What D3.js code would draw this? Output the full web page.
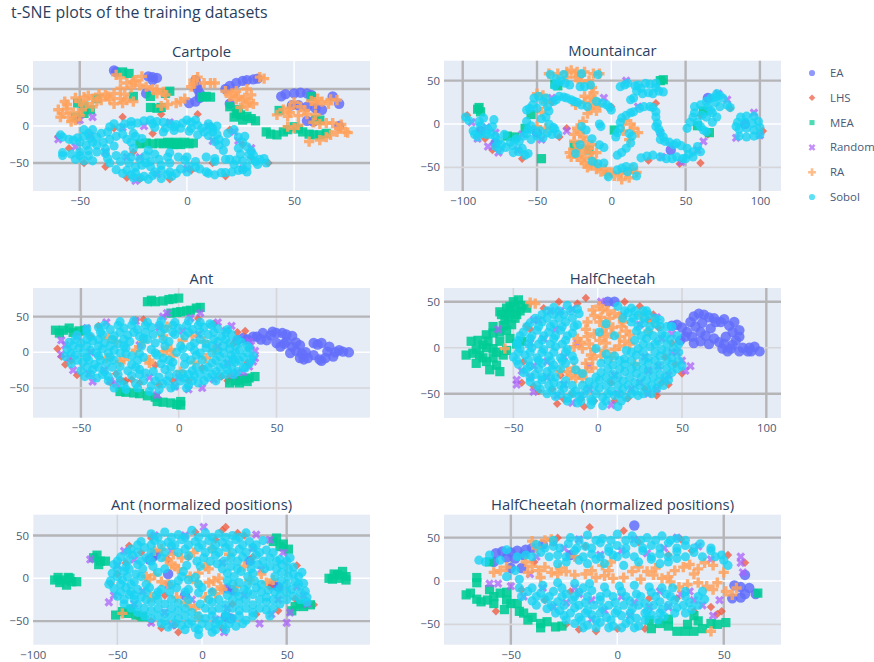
<!DOCTYPE html>
<html>
<head>
<meta charset="utf-8">
<script src="https://cdn.jsdelivr.net/npm/d3@7"></script>
<style>
  body { margin: 0; background: #fff; }
  text { font-family: "Open Sans", sans-serif; fill: #2a3f5f; }
  .axis path { display: none; }
  .axis text { font-size: 11.4px; fill: #4a5a76; }
</style>
</head>
<body>
<svg id="chart" width="874" height="662"></svg>
<script>
// values, t-SNE x/y per panel and per method
const methods = ["EA", "LHS", "MEA", "Random", "RA", "Sobol"];
const colors = ["#636efa", "#EF553B", "#00cc96", "#ab63fa", "#FFA15A", "#19d3f3"];

const cartpoleEA = [[-34,75],[-33,73],[-18,67],[-16,66],[-14,65],[-16,62],[-19,44],[4,62],[4.5,56],[5,50],[6,44],[6,38],[4,33],[1,31],[18,50],[20,54],[23,58],[26,61],[28,62],[31,63],[33,64],[20,30],[44,40],[46,43],[50,44],[53,45],[56,44],[58,42],[68,40],[71,30],[49,28],[52,28],[56,26],[60,24],[63,22],[56,7],[59,6],[71,0]];
const cartpoleLHS = [[-60,-14],[-48,-50],[-30,12],[-12,16],[5,16],[20,-5],[26,-25],[38,-50],[18,-68],[-22,-72],[-8,-72],[-38,-55],[-55,-30],[-34,-3],[-25,-35],[12,-50],[30,-42],[-16,-10],[2,-60],[-28,-70]];
const cartpoleMEA = [[-22,-24],[-19,-23],[-16,-24],[-13,-23],[-11,-24],[-9,-22],[-7,-25],[-5,-22],[-3,-25],[-1,-22],[1,-24],[3,-23],[-4,-24],[-8,-23],[-17,25],[-14,24],[-12,25],[7,39],[9,40],[11,39],[-8,47],[-10,44],[-17,40],[-30,73],[-27,71],[-48,17],[-45,22],[-51,31],[-42,37],[-25,40],[-48,27],[-52,12],[23,17],[25,15],[28,13],[30,10],[32,7],[26,8],[22,12],[24,22],[20,26],[37,-8],[39,-11],[42,-12],[45,-8],[47,-5],[50,-1],[52,-4],[54,-8],[57,-11],[59,-12],[62,-12],[65,-10],[62,8],[58,40],[43,21],[60,9],[-6,-25]];
const cartpoleRandom = [[-60,-18],[-52,-28],[-45,-13],[-30,-2],[-20,0],[-22,-42],[-8,5],[10,0],[24,-20],[30,-30],[26,-58],[0,-58],[-24,-74],[-28,-42],[-44,12],[-50,8],[-38,-35],[12,-20],[-14,-65],[22,-8]];
const cartpoleRA = [[-33,69],[-31,65],[-21,67],[-24,62],[-25,60],[-28,58],[-31,51],[-19,53],[-16,50],[-14,49],[-11,46],[-10,42],[-14,44],[-52,38],[-48,39],[-44,37],[-41,43],[-37,40],[-34,44],[-31,37],[-28,35],[-25,33],[-30,31],[-36,36],[-40,35],[-50,33],[-56,29],[-60,22],[-58,17],[-55,12],[-52,8],[-56,23],[-53,18],[-49,22],[-47,30],[3,62],[5,66],[2,53],[3,57],[8,58],[11,58],[13,58],[-1,37],[-3,33],[-5,31],[-9,29],[-12,27],[18,47],[21,44],[24,40],[26,35],[29,32],[31,30],[25,25],[23,47],[28,50],[30,42],[36,64],[34,66],[45,22],[48,18],[52,14],[47,13],[50,32],[55,21],[60,15],[63,33],[67,36],[70,35],[58,34],[61,37],[65,4],[68,4],[62,3],[52,1],[47,-1],[70,-8],[74,-8],[67,-12],[62,-19],[57,-21],[65,-15],[71,-3],[75,-9],[-46,41],[-42,34],[-34,30],[-38,42],[-57,33],[-59,12],[-54,6],[-44,26],[-50,14],[-26,52],[-22,55],[-29,43],[27,38],[23,36],[28,27],[20,40],[48,24],[53,26],[42,15],[56,16],[66,30],[60,30],[59,5],[72,2],[50,-3]];
const cartpoleSobol = [[-58,-15],[-55,-18],[-51,-16],[-48,-14],[-45,-17],[-42,-15],[-50,-22],[-47,-26],[-44,-22],[-39,-22],[-36,-18],[-33,-14],[-30,-11],[-37,-8],[-44,-5],[-28,-18],[-25,-10],[-31,-2],[-34,3],[-29,3],[-26,6],[-23,4],[-20,7],[-17,8],[-14,6],[-11,5],[-8,3],[-10,-3],[-6,-6],[-3,-3],[-2,4],[0,8],[2,5],[4,8],[5,1],[1,-7],[8,-8],[12,-3],[10,3],[14,0],[5,-12],[10,-13],[14,-11],[-15,-2],[-58,-36],[-54,-38],[-50,-35],[-46,-33],[-42,-35],[-38,-37],[-52,-45],[-48,-47],[-44,-47],[-50,-40],[-33,-40],[-29,-39],[-26,-42],[-22,-45],[-31,-48],[-27,-50],[-24,-56],[-21,-53],[-17,-48],[-13,-45],[-9,-42],[-4,-42],[-8,-50],[-12,-53],[-17,-55],[-28,-60],[-24,-63],[-20,-68],[-25,-70],[-16,-67],[-12,-60],[-8,-62],[-12,-71],[-7,-68],[-3,-58],[1,-54],[4,-48],[6,-58],[0,-62],[9,-42],[13,-44],[10,-64],[13,-66],[16,-63],[18,-45],[20,-45],[22,-52],[26,-47],[30,-45],[34,-45],[37,-50],[33,-52],[28,-55],[24,-60],[18,-63],[28,-62],[24,-15],[26,-22],[28,-28],[24,-30],[29,-38],[25,-38],[22,-5],[19,-10],[18,-22],[15,-26],[13,-21],[17,-33],[-19,-40],[-15,-38],[-18,-33],[-24,-14],[-21,-17],[-34,-27],[-38,-31],[-48,-5],[-8,-36],[-1,-46],[-26,-66],[-33,-59],[-30,-64],[-22,-70],[-18,-72],[-9,-66],[-5,-64],[4,-56],[9,-62],[21,-62],[26,-59],[32,-48],[36,-44],[31,-39],[23,-46],[13,-48],[0,-42],[-19,-50],[-36,-50],[-46,-40],[-58,-40],[-42,-26],[-53,-19],[-59,-12],[-46,-10],[-40,-10],[-26,-22],[-25,-30],[27,-14],[30,-34],[15,-18],[12,-8],[7,-3],[11,-1],[-5,2],[-16,3],[-26,1],[-36,-1],[-11,-8],[-6,-1],[2,-3],[-37,-44],[-15,-62]];

const mountaincarEA = [[-88,-8],[-78,-22],[-50,-10],[65,30],[90,0],[40,-30]];
const mountaincarLHS = [[-97,10],[-80,-30],[-60,-40],[-35,-15],[-30,-5],[-40,25],[0,20],[35,50],[60,10],[80,18],[102,-8],[60,-45],[46,-46],[30,24],[65,-12],[25,-42],[-85,-17]];
const mountaincarMEA = [[-89,19],[-90,17],[-88,14],[-65,-15],[-70,-14],[-58,-5],[-54,11],[-38,46],[-36,44],[35,51],[33,50],[2,-7],[62,15],[58,-2],[66,-10],[-15,-30],[-47,-40],[-25,-25]];
const mountaincarRandom = [[-94,2],[-84,-4],[-78,-10],[-83,-26],[-76,-33],[-60,-12],[-63,-30],[-47,-18],[-40,30],[-5,30],[18,20],[33,-10],[40,-25],[62,-20],[72,35],[78,28],[96,13],[100,-13],[84,-16],[47,-44],[58,-30],[10,50],[34,-38],[-30,-8],[-90,-17]];
const mountaincarRA = [[-42,58],[-36,58],[-30,60],[-27,62],[-23,60],[-18,60],[-12,58],[-8,58],[-24,54],[-20,48],[-15,50],[-13,42],[-12,36],[-14,30],[-18,25],[-14,18],[-10,15],[-16,12],[-8,22],[-11,28],[-24,22],[-50,35],[-46,33],[-44,25],[-47,14],[-23,-5],[-21,-10],[-25,-20],[-18,-20],[-22,-25],[-16,-28],[-27,-38],[-23,-38],[-18,-45],[-14,-48],[-10,-52],[-7,-55],[-3,-58],[2,-60],[7,-64],[12,-62],[17,-56],[14,-52],[-10,-33],[-24,-30],[-18,-38],[-13,-40],[6,-57],[10,-55],[18,-10],[15,-5],[12,-18],[8,-8],[9,4],[13,0],[-50,-3],[-44,-5],[-19,3],[-28,-33],[-14,-33],[-16,-50],[-20,-42],[-10,-47],[-4,-52],[0,-56],[-25,-12],[-19,-15],[-13,-24],[-20,-31],[-12,22],[-18,32],[-22,55],[-30,54]];
const mountaincarSobol = [[-98,8],[-96,4],[-92,-12],[-90,-15],[-87,-11],[-88,-2],[-89,3],[-86,7],[-83,-6],[-80,-3],[-79,5],[-81,-12],[-78,-14],[-76,-19],[-78,-26],[-75,-30],[-71,-27],[-68,-21],[-72,-12],[-66,-25],[-62,-20],[-60,-28],[-58,-36],[-56,-34],[-66,-33],[-59,-14],[-56,-6],[-57,3],[-52,-7],[-50,-14],[-46,-16],[-43,-10],[-38,-6],[-36,-12],[-42,0],[-44,8],[-47,6],[-57,-11],[-39,-4],[-57,16],[-55,18],[-52,30],[-49,32],[-46,26],[-43,20],[-42,15],[-39,26],[-35,32],[-32,31],[-27,28],[-23,25],[-20,22],[-16,20],[-10,26],[-6,24],[-3,22],[0,16],[-1,19],[-41,57],[-37,52],[-32,57],[-20,58],[-9,57],[-14,45],[-21,43],[-18,43],[-34,49],[-31,47],[-28,45],[-38,44],[-20,-3],[-8,0],[-7,-3],[-17,-7],[-13,-17],[-8,-24],[-5,-27],[-21,-24],[-24,-34],[-13,-43],[-9,-46],[-5,-45],[-2,-61],[4,-53],[7,-51],[10,-49],[15,-49],[17,-60],[11,-55],[3,-15],[4,-10],[6,-5],[6,2],[7,7],[10,10],[13,13],[15,14],[19,18],[22,20],[26,20],[28,19],[30,14],[30,8],[31,1],[30,-3],[33,-10],[35,-15],[36,-20],[39,-21],[44,-22],[47,-25],[51,-28],[58,-26],[55,-32],[55,-38],[50,-40],[48,-40],[44,-38],[37,-40],[33,-38],[28,-36],[4,-36],[7,-33],[10,-28],[13,-22],[12,-11],[14,-14],[6,43],[9,45],[11,47],[23,47],[26,46],[30,47],[35,37],[32,38],[28,35],[25,36],[20,41],[17,38],[15,30],[13,28],[51,-5],[53,2],[55,8],[56,13],[56,20],[60,22],[64,26],[67,30],[71,35],[73,33],[75,30],[78,22],[80,19],[71,8],[68,13],[64,-9],[60,-3],[67,16],[61,10],[73,20],[70,25],[86,-14],[91,-15],[96,-14],[100,-12],[86,-6],[91,-5],[96,-7],[100,-4],[85,2],[90,2],[95,1],[99,3],[87,8],[91,9],[96,9],[84,-3],[-93,-8],[-84,-12],[-74,-24],[-64,-17],[-54,-18],[-62,-32],[-40,-12],[-48,-8],[-54,-2],[-53,22],[-50,18],[-44,30],[-37,28],[-30,30],[-25,26],[20,-39],[24,-37],[41,-40],[52,-35],[60,-32],[32,-6],[33,-18],[42,-24],[18,45],[16,44],[30,42],[21,35],[64,8],[58,2],[62,-7],[68,2],[65,20],[70,31]];

const antEA = [[30,17],[33,20],[38,22],[43,27],[48,29],[53,27],[58,23],[45,17],[50,13],[55,15],[58,8],[62,10],[57,-1],[62,-8],[65,0],[69,13],[73,13],[77,8],[82,3],[87,0],[79,-6],[73,-12],[69,-4],[76,1],[40,22],[52,8],[60,2],[66,-8],[84,1],[35,18],[47,24],[42,18],[55,25],[50,27],[72,-10],[75,-8],[80,0],[60,14],[71,11],[63,-2],[54,12],[64,-10]];
const antLHS = [[-41,37],[-52,-32],[-58,-17],[-28,-41],[-20,-43],[10,47],[30,28],[34,30],[36,6],[26,-34],[-49,29],[-60,-6],[-22,45],[-27,-40],[22,-34],[-3,-40],[-55,-12],[-30,-38],[18,40],[28,12],[-18,46],[-32,-30],[35,-15],[-45,22],[-35,-42],[-10,-45],[-62,5],[5,-40],[-12,-18],[12,-22],[-24,-38],[25,-40]];
const antMEA = [[-16,71],[-14,73],[-12,71],[-8,72],[-5,74],[-3,75],[0,76],[-4,55],[-1,56],[1,57],[4,58],[6,59],[9,62],[11,63],[-63,31],[-61,27],[-59,31],[-56,34],[-54,28],[-51,30],[-48,31],[26,-43],[29,-40],[31,-39],[34,-37],[36,-36],[39,-34],[35,-41],[31,-43],[-30,-55],[-27,-56],[-23,-57],[-20,-58],[-16,-61],[-12,-63],[-11,-69],[-8,-70],[-4,-71],[-1,-73],[1,-74],[1,-69]];
const antRandom = [[27,37],[38,-13],[12,-50],[-11,-60],[-22,44],[-6,55],[11,55],[-37,42],[-44,-41],[-60,17],[39,2],[36,-20],[-47,34],[20,42],[-2,-48],[-32,-44],[5,-52],[33,-28],[-54,-25],[-58,10],[-56,-8],[30,-28],[20,8],[-20,10],[0,-35],[-10,35],[-38,-25],[10,25],[25,-15],[-45,0],[18,-38],[-15,-35],[2,30],[36,15],[24,30],[-35,-40],[-60,-3],[-52,22],[-8,50],[6,48],[28,-32],[-46,-30],[39,-8],[37,10]];
const antRA = [[-6,3],[-4,4],[-8,1],[-30,-13],[-28,-10],[-15,-11],[-15,-15],[-32,15],[14,-8],[-6,36],[2,17],[-18,15],[-37,-8],[-8,23],[7,23],[1,-27],[13,15],[-22,3],[8,-14],[-36,20],[-3,-5],[18,3]];
const antSobol = [[-30,43],[-23,44],[-16,42],[-9,44],[-2,42],[5,44],[11,42],[16,40],[-47,33],[-41,35],[-35,32],[-28,34],[-21,32],[-14,35],[-7,33],[0,34],[7,32],[13,35],[20,33],[25,32],[-52,24],[-45,22],[-39,25],[-33,23],[-26,24],[-20,22],[-13,25],[-2,25],[3,23],[15,25],[22,22],[27,25],[-56,14],[-50,13],[-44,16],[-38,13],[-31,12],[-25,15],[-12,13],[-5,15],[8,13],[14,12],[20,15],[26,13],[32,14],[-57,4],[-51,6],[-45,3],[-39,5],[-33,3],[-27,6],[-14,4],[2,5],[8,3],[14,6],[20,3],[26,5],[31,3],[36,6],[-58,-6],[-53,-4],[-47,-7],[-41,-5],[-35,-7],[-24,-5],[-18,-7],[-11,-4],[3,-7],[9,-4],[21,-6],[27,-4],[33,-7],[38,-5],[-55,-16],[-49,-14],[-43,-17],[-37,-15],[-24,-17],[-9,-16],[-3,-14],[3,-17],[17,-15],[23,-17],[29,-14],[36,-16],[-50,-26],[-44,-24],[-38,-27],[-26,-26],[-20,-24],[-13,-27],[-7,-24],[7,-26],[13,-24],[19,-27],[25,-25],[30,-27],[-42,-36],[-36,-34],[-24,-33],[-10,-35],[-5,-33],[3,-36],[8,-33],[15,-35],[21,-33],[-28,-46],[-22,-44],[-14,-47],[-8,-44],[-2,-47],[5,-46],[10,-43],[-33,-50],[-27,-52],[-15,-55],[-10,-52],[-17,-29],[2,-30],[-30,-20],[-1,0],[-20,-2],[-27,-2],[-18,20],[-8,-8],[6,8],[28,-10],[34,-22],[-48,-34],[-38,38],[-31,38],[-24,38],[-17,38],[-10,38],[-3,38],[4,38],[10,38],[17,38],[-47,28],[-40,28],[-30,28],[-23,28],[-17,28],[-9,28],[-3,28],[5,28],[11,28],[18,28],[24,28],[-53,18],[-47,18],[-41,18],[-34,18],[-28,18],[-16,18],[-8,18],[11,18],[18,18],[24,18],[30,18],[-54,9],[-47,9],[-41,9],[-35,9],[-28,9],[-19,9],[-7,9],[1,9],[17,9],[23,9],[29,9],[35,9],[-55,-1],[-49,-1],[-42,-1],[-36,-1],[-30,-1],[-12,-1],[11,-1],[17,-1],[23,-1],[29,-1],[35,-1],[-52,-11],[-46,-11],[-40,-11],[-33,-11],[-21,-11],[-5,-11],[6,-11],[12,-11],[19,-11],[25,-11],[31,-11],[37,-11],[-47,-21],[-41,-21],[-34,-21],[-22,-21],[-4,-21],[9,-21],[15,-21],[21,-21],[27,-21],[33,-21],[-45,-31],[-39,-31],[-31,-31],[-20,-31],[-1,-31],[5,-31],[11,-31],[17,-31],[24,-31],[28,-31],[-36,-40],[-30,-40],[-18,-40],[-12,-40],[-6,-40],[1,-40],[7,-40],[13,-40],[19,-40],[-21,-50],[-4,-50],[4,-50]];

const cheetahEA = [[57,34],[60,37],[63,36],[66,33],[69,32],[75,31],[81,28],[53,17],[61,17],[69,10],[80,17],[47,25],[55,28],[73,28],[84,19],[80,3],[74,-1],[84,-4],[93,1],[96,-4],[61,7],[67,21],[49,8],[58,23],[52,12],[82,8],[77,-4],[89,-4],[90,0],[56,12],[64,13],[44,24],[72,6],[66,4],[76,12],[10,50],[6,50],[70,28],[78,24],[62,27],[50,22],[57,5],[75,4],[84,12],[79,-1],[91,-4],[86,0]];
const cheetahLHS = [[-7,54],[-23,50],[-32,43],[-40,20],[-45,-38],[-24,-61],[-8,-64],[-27,-45],[-2,-58],[33,36],[36,22],[28,-45],[35,-52],[42,-40],[50,-28],[-35,-47],[-15,-50],[40,-10],[44,5],[-42,24],[25,45],[38,-38],[-22,-30],[18,-55],[30,30],[-44,-15],[-10,-56],[8,-38],[46,-18],[-20,-56],[-38,-42],[-12,48],[16,50],[10,-58]];
const cheetahMEA = [[-50,50],[-47,52],[-45,46],[-42,43],[-49,43],[-54,43],[-58,39],[-52,38],[-57,36],[-48,36],[-53,34],[-49,32],[-51,25],[-55,30],[-62,23],[-54,19],[-58,17],[-62,16],[-66,14],[-75,7],[-71,8],[-68,3],[-62,-1],[-58,7],[-52,10],[-48,4],[-45,7],[-65,7],[-72,-2],[-78,-8],[-74,-6],[-70,-8],[-72,-17],[-66,-15],[-60,-19],[-64,-24],[-58,-26],[-56,-8],[-62,-11],[-54,-3],[-68,-11],[-60,-5],[-66,0],[-52,45],[-46,40],[-56,24]];
const cheetahRandom = [[-59,20],[-48,-35],[-48,-40],[-38,-48],[-15,-60],[8,-62],[55,-20],[50,-14],[35,33],[2,50],[-22,40],[-35,30],[-40,5],[-30,-15],[-25,20],[-20,-40],[-5,-45],[20,-45],[30,-25],[35,-45],[42,-30],[44,-5],[25,25],[28,-10],[-38,-20],[10,-30],[-12,5],[-32,10],[15,35],[-45,-25],[-10,-52],[12,-50],[38,10],[-20,-10],[-5,-20],[25,-38],[-30,-32],[36,-20],[-38,30],[-28,40],[-40,-32],[47,-5],[52,-25],[40,-35],[-15,42],[-24,-52],[30,-50],[44,15]];
const cheetahRA = [[-40,49],[-37,48],[1,45],[3,42],[-3,41],[6,40],[10,37],[13,34],[-2,35],[2,33],[7,32],[1,28],[5,24],[9,22],[14,23],[17,18],[19,14],[3,18],[-2,15],[-6,12],[8,15],[13,12],[16,7],[19,4],[-10,6],[-5,4],[1,8],[5,5],[-14,1],[-9,-1],[-2,-2],[4,-3],[10,-2],[13,2],[-4,-8],[2,-9],[8,-10],[-14,-22],[-18,-26],[-22,-26],[-16,-30],[-11,-28],[-7,-26],[-3,-22],[-9,-33],[-13,-33],[-7,-17],[-3,-12],[33,28],[30,18],[-55,-1],[26,35],[22,-18],[-6,28],[-7,20],[-12,10],[15,28],[4,12]];
const cheetahSobol = [[-26,44],[-18,46],[-12,42],[-20,36],[-11,37],[12,45],[20,43],[27,40],[-33,36],[-26,36],[18,38],[24,35],[30,36],[37,30],[-40,27],[-33,28],[-26,26],[-19,28],[-12,25],[20,28],[27,27],[34,26],[41,23],[-44,17],[-36,19],[-29,17],[-22,19],[-15,16],[23,18],[30,17],[38,15],[-47,8],[-40,10],[-33,8],[-26,10],[-19,8],[22,8],[29,10],[36,7],[43,9],[-46,-1],[-39,0],[-32,-2],[-25,1],[-18,-2],[17,-3],[24,-1],[31,1],[38,-2],[45,0],[-50,-10],[-43,-8],[-36,-11],[-29,-9],[-22,-11],[-15,-9],[10,-9],[16,-12],[23,-8],[30,-11],[37,-9],[44,-11],[-47,-18],[-40,-20],[-33,-17],[-26,-19],[-19,-17],[2,-17],[9,-19],[16,-18],[23,-20],[30,-17],[37,-19],[44,-18],[50,-20],[-44,-27],[-37,-29],[-30,-26],[-25,-32],[2,-27],[9,-29],[16,-26],[23,-28],[30,-26],[37,-29],[44,-27],[-40,-37],[-33,-35],[-26,-38],[-19,-36],[-5,-37],[1,-35],[8,-37],[15,-36],[22,-38],[29,-35],[36,-37],[42,-35],[-34,-45],[-27,-46],[-20,-44],[-13,-47],[-6,-45],[1,-44],[8,-47],[15,-45],[22,-47],[29,-44],[35,-44],[-25,-53],[-18,-55],[-11,-53],[-4,-56],[3,-54],[10,-52],[17,-54],[24,-52],[-4,-62],[3,-63],[12,-64],[-12,-60],[1,17],[10,13],[-1,-1],[5,26],[-13,-24],[-9,-28],[5,-7],[-30,40],[-23,40],[-16,40],[16,40],[22,40],[29,40],[-37,32],[-30,32],[-23,32],[-15,32],[15,32],[21,32],[28,32],[34,32],[-42,23],[-35,23],[-28,23],[-21,23],[-14,23],[24,23],[31,23],[37,23],[44,23],[-46,13],[-39,13],[-32,13],[-25,13],[-18,13],[26,13],[33,13],[40,13],[47,13],[-48,4],[-41,4],[-35,4],[-28,4],[-21,4],[27,4],[34,4],[41,4],[48,4],[-47,-5],[-40,-5],[-33,-5],[-26,-5],[-19,-5],[20,-5],[27,-5],[34,-5],[41,-5],[48,-5],[-48,-14],[-41,-14],[-35,-14],[-28,-14],[-21,-14],[-14,-14],[6,-14],[13,-14],[20,-14],[27,-14],[34,-14],[41,-14],[48,-14],[-42,-23],[-35,-23],[-27,-23],[-22,-23],[6,-23],[13,-23],[20,-23],[27,-23],[34,-23],[41,-23],[47,-23],[-40,-32],[-33,-32],[-28,-32],[-1,-32],[5,-32],[12,-32],[19,-32],[26,-32],[33,-32],[40,-32],[-36,-41],[-29,-41],[-22,-41],[-15,-41],[-9,-41],[-2,-41],[5,-41],[12,-41],[18,-41],[25,-41],[32,-41],[39,-41],[-30,-50],[-22,-50],[-15,-50],[-8,-50],[-1,-50],[6,-50],[13,-50],[20,-50],[27,-50],[32,-50],[-18,-58],[-10,-58],[-3,-58],[5,-58],[14,-58]];

const antNormEA = [[-29,25],[-27,28],[-31,22],[15,-12],[18,-14],[42,-8],[45,-10],[17,-47],[14,-45],[-10,-20],[28,20],[-20,5]];
const antNormLHS = [[-43,38],[-36,30],[12,56],[-14,-63],[-16,-55],[8,45],[21,53],[-4,54],[-38,-45],[-20,22],[-30,-50],[32,-42],[12,-58],[25,50],[66,-31],[55,-24],[-50,5],[-54,-6],[56,15],[-30,47],[18,-30],[-8,25],[-22,-20],[30,25],[40,-10],[6,-15],[-45,18],[-24,-58],[14,60],[45,-38]];
const antNormMEA = [[-87,-2],[-85,1],[-82,-2],[-84,-5],[-80,-8],[-77,-4],[-74,-4],[-78,0],[-79,1],[75,0],[77,-1],[78,5],[80,4],[83,8],[85,2],[85,-2],[81,0],[-64,24],[-62,27],[-60,20],[-57,20],[-61,16],[42,43],[44,47],[46,37],[48,40],[51,34],[-51,-43],[-47,-39],[-44,-41],[-42,-36],[-39,-43],[-35,-45],[55,-33],[58,-30],[60,-33],[64,-31],[53,-38]];
const antNormRandom = [[-66,22],[-55,-28],[1,60],[-28,50],[-22,-40],[-10,50],[32,51],[62,-30],[50,-52],[34,-53],[48,30],[56,-10],[-52,-20],[-50,15],[-40,-30],[13,-63],[-30,-52],[41,-42],[25,-20],[-18,32],[12,18],[-6,-25],[35,10],[-35,-15],[-20,-8],[15,-35],[45,-25],[-40,22],[30,35],[8,-48],[-46,32],[-18,-55],[52,-40],[60,-20],[40,45]];
const antNormRA = [[-18,16],[-16,14],[-14,11],[-21,22],[-33,2],[-31,-1],[-28,4],[-24,-4],[-20,-7],[-28,32],[-24,34],[-17,28],[-12,24],[2,14],[4,11],[-2,6],[-7,2],[7,-3],[-3,-5],[4,-5],[10,0],[12,-13],[8,-18],[11,-10],[-10,-28],[-7,-32],[-4,-35],[-2,-45],[2,-22],[-15,-22],[20,-10],[28,-2],[35,5],[42,-2],[38,-5],[-47,-41],[-30,-22],[16,28],[25,14],[-5,30],[6,35]];
const antNormSobol = [[-30,52],[-22,54],[-14,51],[-6,56],[2,53],[10,52],[18,50],[26,53],[-36,43],[-28,44],[-20,42],[-12,45],[-4,43],[4,44],[12,42],[20,45],[28,43],[36,44],[-42,34],[-34,36],[-18,38],[-10,34],[-2,36],[6,34],[14,36],[22,34],[30,36],[38,33],[-48,25],[-41,27],[-33,24],[-24,24],[-8,26],[1,24],[8,27],[17,24],[24,25],[32,27],[40,24],[46,22],[52,24],[-52,16],[-45,13],[-38,16],[-29,14],[-9,15],[9,17],[17,14],[33,16],[40,14],[47,16],[54,13],[-53,6],[-46,8],[-39,5],[-26,7],[-11,8],[-1,14],[15,6],[23,8],[30,6],[47,7],[54,5],[59,7],[-54,-3],[-47,-2],[-40,-4],[-14,-3],[-8,-2],[15,-3],[22,-5],[31,-3],[47,-3],[55,-4],[60,-6],[-52,-12],[-45,-11],[-38,-13],[-31,-11],[-24,-13],[-15,-11],[-8,-13],[0,-11],[25,-13],[32,-11],[39,-14],[46,-12],[53,-13],[61,-15],[-50,-21],[-43,-19],[-36,-22],[-27,-20],[-19,-16],[-2,-17],[15,-20],[22,-21],[30,-19],[38,-22],[46,-20],[54,-21],[62,-22],[-46,-30],[-38,-31],[-30,-28],[-22,-30],[-14,-29],[-1,-30],[6,-28],[14,-31],[22,-29],[30,-31],[38,-28],[46,-30],[-38,-40],[-30,-38],[-22,-41],[-14,-38],[-6,-40],[6,-38],[14,-41],[22,-38],[30,-40],[38,-37],[-30,-47],[-22,-50],[-14,-47],[-6,-50],[2,-47],[10,-50],[18,-47],[26,-49],[-20,-57],[-12,-55],[-4,-58],[4,-56],[12,-54],[20,-56],[-2,-66],[6,-63],[2,-35],[-40,-20],[62,-28],[40,-44],[-26,48],[-18,48],[-10,48],[-2,48],[6,48],[14,48],[22,48],[-38,39],[-30,39],[-24,39],[-16,39],[-8,39],[0,39],[8,39],[16,39],[24,39],[32,39],[-44,30],[-38,30],[-30,30],[-22,30],[-14,30],[2,30],[10,30],[18,30],[26,30],[34,30],[42,30],[-50,20],[-44,20],[-36,20],[-30,20],[-3,20],[5,20],[13,20],[21,20],[29,20],[36,20],[44,20],[50,20],[-50,11],[-43,11],[-35,11],[-22,11],[-4,1],[12,11],[21,11],[29,11],[37,11],[44,11],[51,11],[-50,2],[-44,2],[-36,2],[-12,2],[19,2],[27,2],[43,2],[51,2],[57,2],[-55,-7],[-48,-7],[-42,-7],[-33,-7],[-18,-7],[-2,-7],[18,-7],[27,-7],[35,-7],[50,-7],[57,-7],[-48,-16],[-42,-16],[-33,-16],[-26,-16],[-10,-16],[6,-16],[20,-16],[27,-16],[35,-16],[43,-16],[50,-16],[58,-16],[-46,-25],[-40,-25],[-33,-25],[-26,-25],[-18,-25],[-8,-25],[4,-25],[10,-25],[18,-25],[26,-25],[34,-25],[42,-25],[50,-25],[58,-25],[-42,-35],[-34,-35],[-26,-35],[-18,-35],[-10,-35],[10,-35],[18,-35],[26,-35],[34,-35],[42,-35],[-34,-44],[-26,-44],[-18,-44],[-10,-44],[-2,-44],[6,-44],[14,-44],[22,-44],[30,-44],[-24,-53],[-16,-53],[-8,-53],[0,-53],[8,-53],[16,-53],[24,-53],[-10,-60],[-2,-60],[8,-60],[14,-60]];

const cheetahNormEA = [[-57,32],[-54,34],[-50,33],[-47,35],[-44,30],[-52,27],[-48,26],[-43,36],[-58,22],[-50,15],[-45,15],[-40,38],[-35,42],[58,-7],[62,-8],[65,-15],[60,-15],[58,-19],[54,-20],[60,7],[55,-5],[-22,30],[8,64]];
const cheetahNormLHS = [[-13,62],[-57,-35],[60,21],[49,-35],[47,-38],[-24,-50],[-10,-58],[3,58],[13,-55],[-30,44],[35,35],[44,-30],[52,30],[-39,22],[0,-55],[28,-20],[-15,40],[10,45],[-45,-10],[20,-45],[-22,-12],[15,-20],[36,-35],[24,30],[-34,-22],[-28,50],[30,48],[-18,-56]];
const cheetahNormMEA = [[-71,-16],[-69,-14],[-66,-21],[-64,-24],[-61,-22],[-58,-18],[-55,-14],[-52,-13],[-58,-26],[-52,-22],[-50,-26],[-53,-33],[-46,-35],[-44,-37],[-47,-26],[-42,-45],[-40,-42],[-36,-49],[-33,-47],[-29,-53],[-36,-54],[-26,-52],[-66,4],[-66,-2],[-60,-10],[-60,22],[15,-45],[20,-49],[24,-52],[28,-58],[24,-44],[32,-58],[36,-58],[33,-50],[38,-46],[40,-55],[44,-49],[47,-50],[51,-48],[66,-14],[36,-40],[16,-55]];
const cheetahNormRandom = [[58,28],[58,21],[-50,-6],[-56,-3],[-41,8],[-44,-18],[-30,-30],[-20,-8],[-12,-22],[2,-18],[15,-30],[30,-15],[40,-28],[45,-40],[59,10],[-38,28],[-18,48],[8,48],[28,50],[36,-22],[14,32],[-30,45],[-6,-34],[6,-40],[-24,-25],[24,-30],[-12,-44],[48,-22],[-8,30],[2,35],[22,38],[44,25],[-60,-3],[-35,-8],[-18,-15],[8,-25],[20,-12],[34,-12],[-25,38],[38,40]];
const cheetahNormRA = [[-58,10],[-55,12],[-52,16],[-43,22],[-40,17],[-37,12],[-34,16],[-31,10],[-28,8],[-27,15],[-24,11],[-20,7],[-36,4],[-42,10],[-15,8],[-10,4],[-6,6],[-2,3],[-12,12],[-7,18],[-3,22],[-4,12],[3,4],[7,11],[10,16],[14,11],[17,7],[21,3],[24,5],[27,12],[31,16],[34,19],[38,14],[41,21],[45,18],[50,10],[25,-1],[29,-7],[33,-4],[38,-2],[42,-6],[45,-10],[51,-12],[56,-8],[54,-16],[47,-2],[36,8],[44,-58],[-40,46],[-34,47],[-31,48],[-38,38],[-20,28],[11,2],[18,15]];
const cheetahNormSobol = [[-22,50],[-14,53],[-7,49],[0,54],[7,52],[14,50],[21,52],[28,49],[-38,42],[-30,40],[-23,43],[-15,40],[-8,44],[0,41],[8,44],[16,41],[24,44],[32,41],[39,43],[-43,30],[-36,33],[-28,30],[-20,35],[-12,31],[-4,34],[4,31],[12,35],[20,31],[28,34],[36,33],[44,35],[49,30],[-62,22],[-65,24],[-52,36],[-18,24],[-10,25],[-2,30],[16,25],[24,22],[-48,12],[-24,22],[3,18],[20,20],[-52,5],[-46,2],[-35,-5],[-28,-2],[-20,-3],[-13,-3],[-6,-7],[1,-6],[8,-5],[15,-7],[21,-8],[-42,-12],[-36,-14],[-30,-12],[-24,-15],[-18,-13],[-12,-11],[-5,-14],[2,-12],[9,-15],[16,-13],[23,-15],[-40,-23],[-34,-21],[-28,-24],[-21,-22],[-15,-25],[-8,-22],[-1,-25],[6,-23],[13,-26],[20,-24],[27,-22],[34,-25],[41,-21],[-33,-32],[-27,-34],[-20,-31],[-14,-34],[-7,-31],[0,-34],[7,-32],[14,-35],[21,-33],[28,-31],[35,-33],[-25,-40],[-18,-42],[-12,-39],[-5,-42],[2,-40],[9,-43],[16,-39],[22,-41],[-20,-49],[-14,-51],[-8,-48],[-2,-52],[4,-49],[10,-52],[28,26],[50,24],[52,18],[-60,30],[-26,-8],[26,-8],[32,-12],[40,-12],[-55,24],[-30,47],[-18,47],[-10,47],[-3,47],[4,47],[11,47],[18,47],[25,47],[32,47],[-34,38],[-27,38],[-19,38],[-12,38],[-4,38],[4,38],[12,38],[20,38],[28,38],[36,38],[44,38],[-47,28],[-40,28],[-32,28],[-24,28],[-16,28],[-8,28],[0,28],[8,28],[16,28],[24,28],[32,28],[40,28],[46,28],[-28,20],[-14,20],[-6,20],[10,22],[-46,-8],[-40,-8],[-16,-8],[-45,-18],[-38,-18],[-32,-18],[-26,-18],[-20,-18],[-14,-18],[-8,-18],[-2,-18],[4,-18],[11,-18],[18,-18],[25,-18],[32,-18],[38,-18],[-38,-28],[-31,-28],[-25,-28],[-18,-28],[-11,-28],[-4,-28],[3,-28],[10,-28],[17,-28],[24,-28],[31,-28],[38,-28],[-29,-37],[-22,-37],[-15,-37],[-8,-37],[-1,-37],[6,-37],[13,-37],[20,-37],[27,-37],[32,-37],[-24,-45],[-17,-45],[-10,-45],[-3,-45],[6,-45],[13,-45],[19,-45],[-16,-54],[-10,-54],[-4,-54],[2,-54],[8,-54]];

const gridStyle = {
  heavy: { stroke: "#b5b5b8", width: 2.4 },
  soft: { stroke: "#d6d6da", width: 1.6 },
  white: { stroke: "#ffffff", width: 1.4 }
};

// grid styles are per tick since the reference uses three kinds of line
const panels = [
  { title: "Cartpole", left: 33, right: 370, top: 61, bottom: 191, xDomain: [-71.8, 85.4], yDomain: [-87.8, 87.8], xTicks: [-50, 0, 50], yTicks: [-50, 0, 50],
    xGrid: ["heavy", "white", "white"], yGrid: ["heavy", "white", "heavy"], series: [cartpoleEA, cartpoleLHS, cartpoleMEA, cartpoleRandom, cartpoleRA, cartpoleSobol] },
  { title: "Mountaincar", left: 444, right: 781, top: 60.7, bottom: 191, xDomain: [-112.6, 114.2], yDomain: [-77.3, 73], xTicks: [-100, -50, 0, 50, 100], yTicks: [-50, 0, 50],
    xGrid: ["heavy", "heavy", "white", "heavy", "heavy"], yGrid: ["soft", "white", "heavy"], series: [mountaincarEA, mountaincarLHS, mountaincarMEA, mountaincarRandom, mountaincarRA, mountaincarSobol] },
  { title: "Ant", left: 33, right: 370, top: 288, bottom: 417.7, xDomain: [-74.5, 97.8], yDomain: [-91.7, 90.2], xTicks: [-50, 0, 50], yTicks: [-50, 0, 50],
    xGrid: ["heavy", "soft", "soft"], yGrid: ["soft", "white", "heavy"], series: [antEA, antLHS, antMEA, antRandom, antRA, antSobol] },
  { title: "HalfCheetah", left: 444, right: 781, top: 288, bottom: 418, xDomain: [-91.1, 108.7], yDomain: [-76.4, 64.9], xTicks: [-50, 0, 50, 100], yTicks: [-50, 0, 50],
    xGrid: ["soft", "white", "soft", "heavy"], yGrid: ["heavy", "soft", "heavy"], series: [cheetahEA, cheetahLHS, cheetahMEA, cheetahRandom, cheetahRA, cheetahSobol] },
  { title: "Ant (normalized positions)", left: 33, right: 370, top: 514.7, bottom: 644.7, xDomain: [-99.8, 99.2], yDomain: [-77.6, 74.3], xTicks: [-100, -50, 0, 50], yTicks: [-50, 0, 50],
    xGrid: ["white", "soft", "white", "heavy"], yGrid: ["heavy", "white", "heavy"], series: [antNormEA, antNormLHS, antNormMEA, antNormRandom, antNormRA, antNormSobol] },
  { title: "HalfCheetah (normalized positions)", left: 444, right: 781, top: 514.7, bottom: 644.7, xDomain: [-81.4, 76.9], yDomain: [-73.5, 76.5], xTicks: [-50, 0, 50], yTicks: [-50, 0, 50],
    xGrid: ["heavy", "white", "heavy"], yGrid: ["soft", "white", "heavy"], series: [cheetahNormEA, cheetahNormLHS, cheetahNormMEA, cheetahNormRandom, cheetahNormRA, cheetahNormSobol] }
];

// the dense methods get a wider mark so their clusters close up like the reference
const symbols = [
  { type: d3.symbolCircle, rotate: 0, size: 85, legend: 30, opacity: 0.85 },
  { type: d3.symbolSquare, rotate: 45, size: 36, legend: 22, opacity: 0.75 },
  { type: d3.symbolSquare, rotate: 0, size: 85, legend: 26, opacity: 0.9 },
  { type: d3.symbolCross, rotate: 45, size: 48, legend: 30, opacity: 0.75 },
  { type: d3.symbolCross, rotate: 0, size: 58, legend: 34, opacity: 0.85 },
  { type: d3.symbolCircle, rotate: 0, size: 66, legend: 30, opacity: 0.8 }
];

const svg = d3.select("#chart");

svg.append("text").attr("x", 11).attr("y", 18).attr("font-size", 15.9).text("t-SNE plots of the training datasets");

function tickFormat(d) {
  return d < 0 ? `\u2212${-d}` : `${d}`;
}

function drawGrid(g, ticks, styles, make) {
  ticks.forEach((tick, index) => {
    const style = gridStyle[styles[index]];
    make(g.append("line"), tick).attr("stroke", style.stroke).attr("stroke-width", style.width);
  });
}

panels.forEach((panel) => {
  const x = d3.scaleLinear().domain(panel.xDomain).range([panel.left, panel.right]);
  const y = d3.scaleLinear().domain(panel.yDomain).range([panel.bottom, panel.top]);
  const g = svg.append("g");

  g.append("rect").attr("x", panel.left).attr("y", panel.top)
    .attr("width", panel.right - panel.left).attr("height", panel.bottom - panel.top).attr("fill", "#e5ecf6");

  drawGrid(g, panel.xTicks, panel.xGrid, (line, tick) => line.attr("x1", x(tick)).attr("x2", x(tick)).attr("y1", panel.top).attr("y2", panel.bottom));
  drawGrid(g, panel.yTicks, panel.yGrid, (line, tick) => line.attr("y1", y(tick)).attr("y2", y(tick)).attr("x1", panel.left).attr("x2", panel.right));

  g.append("g").attr("class", "axis").attr("transform", `translate(0,${panel.bottom})`)
    .call(d3.axisBottom(x).tickValues(panel.xTicks).tickSize(0).tickPadding(6).tickFormat(tickFormat));
  g.append("g").attr("class", "axis").attr("transform", `translate(${panel.left},0)`)
    .call(d3.axisLeft(y).tickValues(panel.yTicks).tickSize(0).tickPadding(4).tickFormat(tickFormat));

  panel.series.forEach((points, index) => {
    const s = symbols[index];
    g.append("g").selectAll("path").data(points).enter().append("path")
      .attr("d", d3.symbol().type(s.type).size(s.size)())
      .attr("transform", (d) => `translate(${x(d[0])},${y(d[1])}) rotate(${s.rotate})`)
      .attr("fill", colors[index])
      .attr("opacity", s.opacity);
  });

  g.append("text").attr("x", (panel.left + panel.right) / 2).attr("y", panel.top - 4.5)
    .attr("text-anchor", "middle").attr("font-size", 14.85).text(panel.title);
});

const legendY = d3.scalePoint().domain(methods).range([73, 197]);
methods.forEach((name, index) => {
  const s = symbols[index];
  const g = svg.append("g").attr("transform", `translate(812,${legendY(name)})`);
  g.append("path").attr("d", d3.symbol().type(s.type).size(s.legend)()).attr("transform", `rotate(${s.rotate})`)
    .attr("fill", colors[index]).attr("opacity", 0.7);
  g.append("text").attr("x", 18).attr("y", 4).attr("font-size", 11.4).style("fill", "#4a5a76").text(name);
});
</script>
</body>
</html>
